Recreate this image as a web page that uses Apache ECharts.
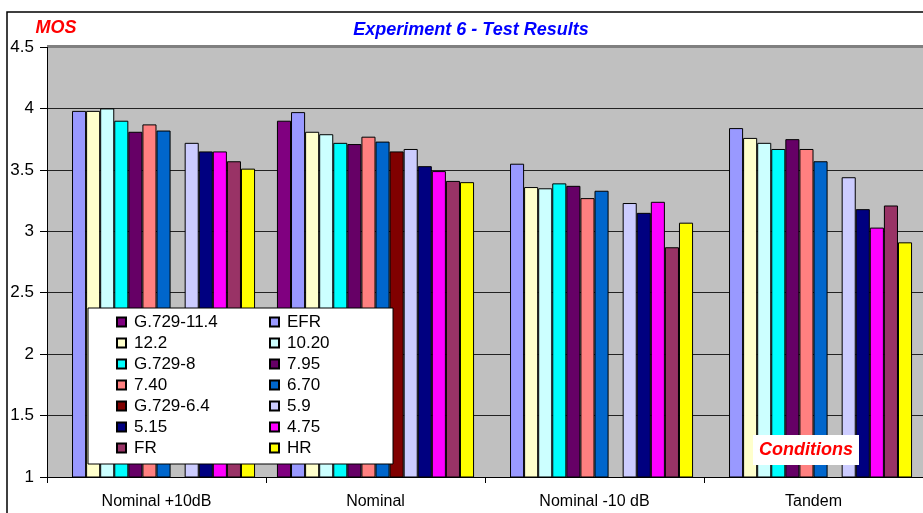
<!DOCTYPE html>
<html>
<head>
<meta charset="utf-8">
<script src="https://cdn.jsdelivr.net/npm/echarts@6/dist/echarts.min.js"></script>
<style>
  html, body { margin: 0; padding: 0; background: #fff; }
  #main { width: 923px; height: 513px; }
</style>
</head>
<body>
<div id="main"></div>
<script>
// categories and values (null = no bar)
const categories = ['Nominal +10dB', 'Nominal', 'Nominal -10 dB', 'Tandem']
const yTicks = [1, 1.5, 2, 2.5, 3, 3.5, 4, 4.5]

const g729_114 = [null, 3.90, null, null]
const efr      = [3.98, 3.97, 3.55, 3.84]
const r122     = [3.98, 3.81, 3.36, 3.76]
const r1020    = [4.00, 3.79, 3.35, 3.72]
const g729_8   = [3.90, 3.72, 3.39, 3.67]
const r795     = [3.81, 3.71, 3.37, 3.75]
const r740     = [3.87, 3.77, 3.27, 3.67]
const r670     = [3.82, 3.73, 3.33, 3.57]
const g729_64  = [null, 3.65, null, null]
const r59      = [3.72, 3.67, 3.23, 3.44]
const r515     = [3.65, 3.53, 3.15, 3.18]
const r475     = [3.65, 3.49, 3.24, 3.03]
const fr       = [3.57, 3.41, 2.87, 3.21]
const hr       = [3.51, 3.40, 3.07, 2.91]

const seriesList = [
  {name: 'G.729-11.4', data: g729_114, color: '#800080'},
  {name: 'EFR', data: efr, color: '#9999ff'},
  {name: '12.2', data: r122, color: '#ffffcc'},
  {name: '10.20', data: r1020, color: '#ccffff'},
  {name: 'G.729-8', data: g729_8, color: '#00ffff'},
  {name: '7.95', data: r795, color: '#660066'},
  {name: '7.40', data: r740, color: '#ff8080'},
  {name: '6.70', data: r670, color: '#0066cc'},
  {name: 'G.729-6.4', data: g729_64, color: '#800000'},
  {name: '5.9', data: r59, color: '#ccccff'},
  {name: '5.15', data: r515, color: '#000080'},
  {name: '4.75', data: r475, color: '#ff00ff'},
  {name: 'FR', data: fr, color: '#993366'},
  {name: 'HR', data: hr, color: '#ffff00'}
]

const font = 'Arial, "Liberation Sans", sans-serif'

const legendLeft = seriesList.filter((s, i) => i % 2 === 0).map(s => s.name)
const legendRight = seriesList.filter((s, i) => i % 2 === 1).map(s => s.name)

const legendBase = {
  orient: 'vertical',
  top: 312,
  itemWidth: 9,
  itemHeight: 9,
  itemGap: 1,
  icon: 'rect',
  z: 20,
  padding: 0,
  selectedMode: false,
  textStyle: {fontFamily: font, fontSize: 17, color: '#000', lineHeight: 20, padding: [0, 0, 0, 3]}
}

const chart = echarts.init(document.getElementById('main'))
const option = {
  animation: false,
  grid: {
    left: 47,
    top: 47,
    width: 888,
    height: 430,
    show: true,
    backgroundColor: '#c0c0c0',
    borderWidth: 0
  },
  legend: [
    Object.assign({}, legendBase, {left: 116, data: legendLeft}),
    Object.assign({}, legendBase, {left: 269, data: legendRight})
  ],
  xAxis: {
    type: 'category',
    data: categories,
    axisLine: {lineStyle: {color: '#000', width: 1}},
    axisTick: {show: true, length: 6, lineStyle: {color: '#000'}},
    axisLabel: {fontFamily: font, fontSize: 16, color: '#000', margin: 17}
  },
  yAxis: {
    type: 'value',
    min: 1,
    max: 4.5,
    interval: 0.5,
    axisLine: {show: true, lineStyle: {color: '#000', width: 1}},
    axisTick: {show: true, length: 7, lineStyle: {color: '#000'}},
    axisLabel: {
      fontFamily: font, fontSize: 17, color: '#000', margin: 13,
      formatter: v => yTicks.includes(v) ? String(v) : ''
    },
    splitLine: {
      show: true,
      lineStyle: {color: ['#000', '#222', '#222', '#222', '#222', '#222', '#222', '#808080'], width: 1}
    }
  },
  series: seriesList.map(s => ({
    name: s.name,
    type: 'bar',
    data: s.data,
    barGap: '0%',
    barCategoryGap: '10%',
    itemStyle: {color: s.color, borderColor: '#000', borderWidth: 1}
  })),
  graphic: [
    {
      type: 'rect', z: -1, silent: true,
      shape: {x: 7, y: 12, width: 960, height: 560},
      style: {fill: null, stroke: '#000', lineWidth: 1.5}
    },
    {
      type: 'rect', z: 1, silent: true,
      shape: {x: 47, y: 45, width: 888, height: 2},
      style: {fill: '#808080'}
    },
    {
      type: 'text', x: 56, y: 28, z: 5,
      style: {text: 'MOS', fill: '#ff0000', font: 'italic bold 18px ' + font, align: 'center', verticalAlign: 'middle'}
    },
    {
      type: 'text', x: 471, y: 30, z: 5,
      style: {text: 'Experiment 6 - Test Results', fill: '#0000ff', font: 'italic bold 18px ' + font, align: 'center', verticalAlign: 'middle'}
    },
    {
      type: 'rect', z: 10, silent: true,
      shape: {x: 88, y: 308, width: 305, height: 156},
      style: {fill: '#fff', stroke: '#000', lineWidth: 1}
    },
    {
      type: 'rect', z: 10, silent: true,
      shape: {x: 753, y: 435, width: 106, height: 30},
      style: {fill: '#fff'}
    },
    {
      type: 'text', x: 806, y: 450, z: 11,
      style: {text: 'Conditions', fill: '#ff0000', font: 'italic bold 18px ' + font, align: 'center', verticalAlign: 'middle'}
    }
  ]
}
chart.setOption(option)
</script>
</body>
</html>
